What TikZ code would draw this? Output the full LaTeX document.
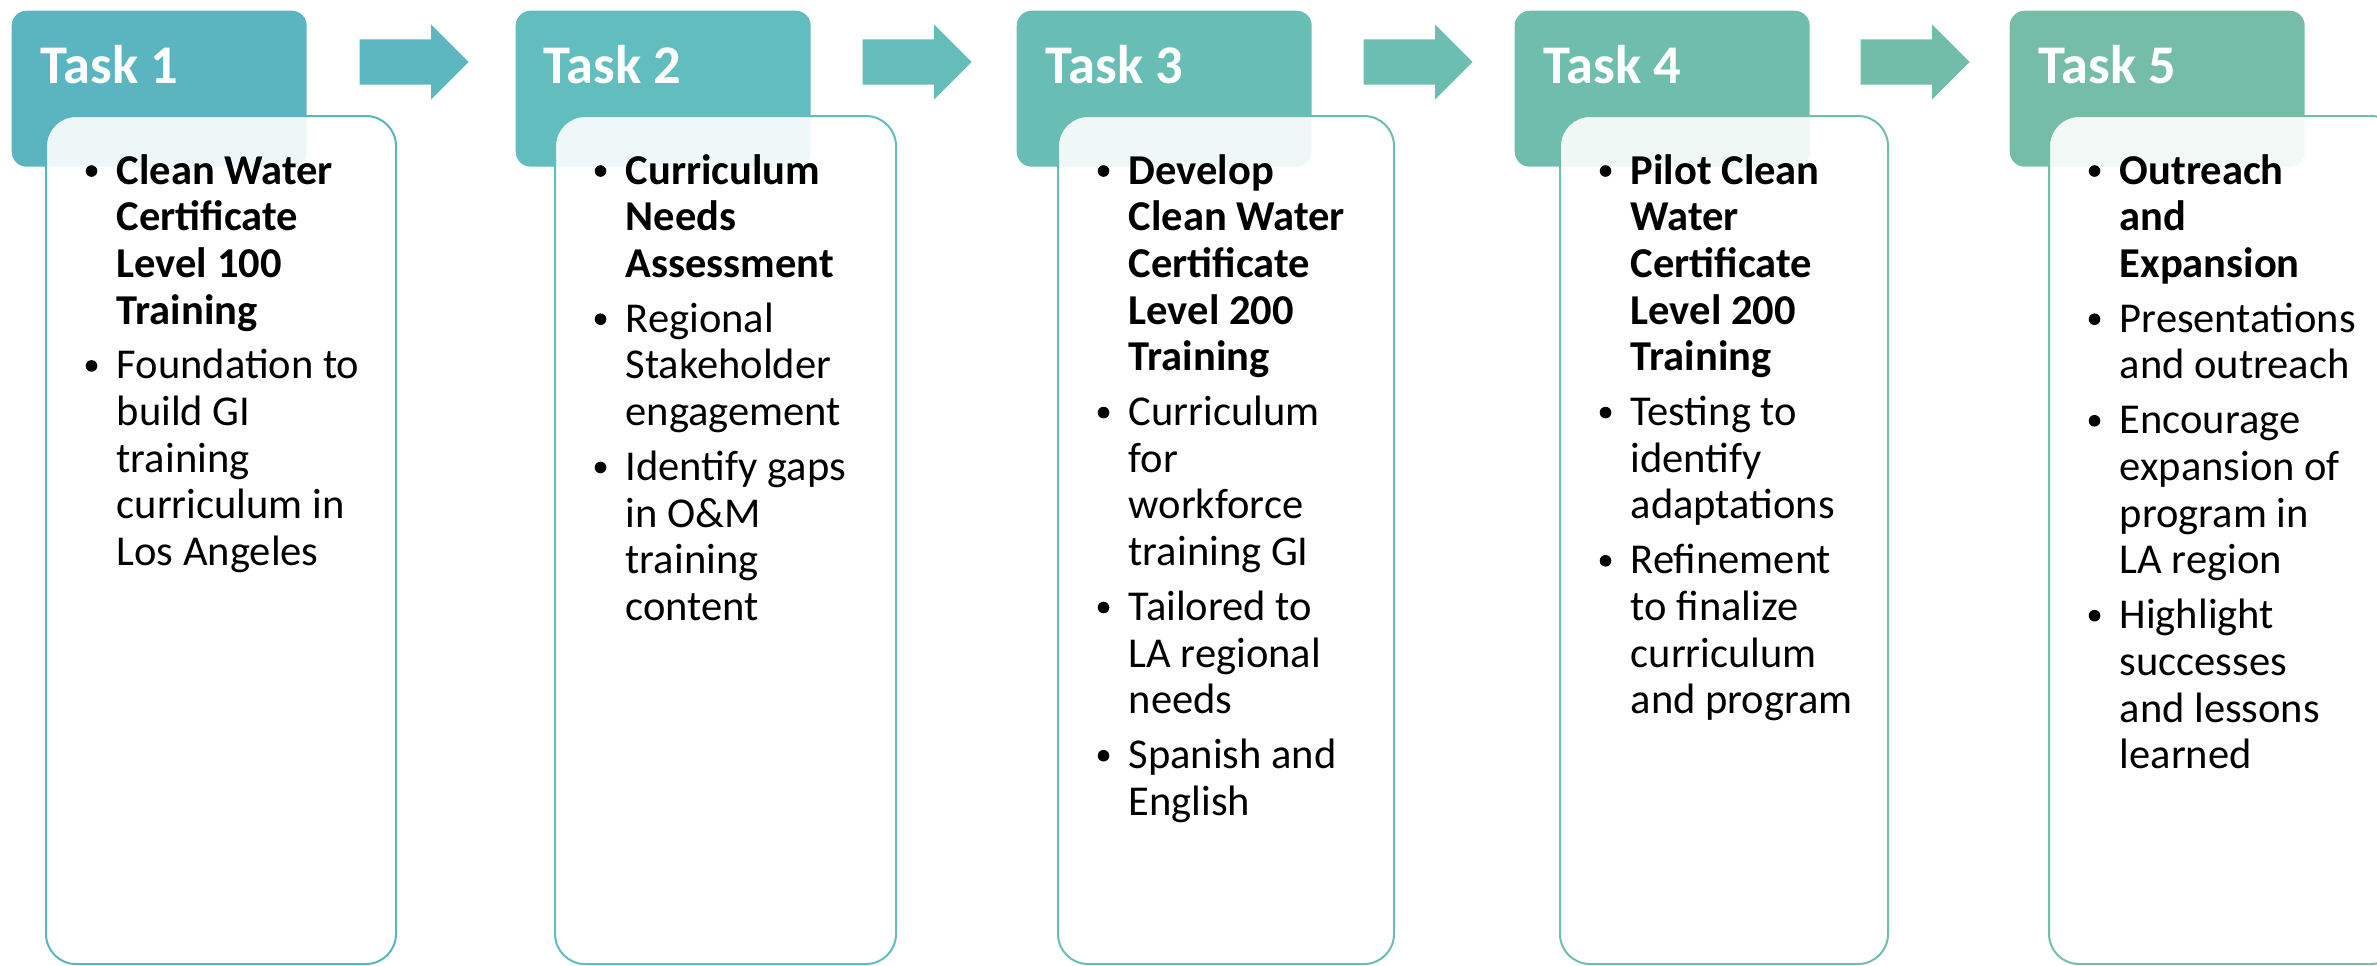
\documentclass[tikz,border=0pt]{standalone}
\usepackage{fontspec}
\setmainfont{Carlito}
\usepackage{enumitem}
\usetikzlibrary{shapes.arrows}

\definecolor{c1}{RGB}{91,181,193}
\definecolor{c2}{RGB}{97,189,190}
\definecolor{c3}{RGB}{104,190,180}
\definecolor{c4}{RGB}{111,190,173}
\definecolor{c5}{RGB}{118,189,167}

% round bullet, a bit larger than the font's own
\newcommand{\dotmark}{\tikz[baseline=-1.3mm]\fill (0,0) circle (0.58mm);}

% bullet list of one task box, lines broken by hand
\newcommand{\tasklist}[1]{%
	\begin{minipage}[t]{40mm}
		\fontsize{12.1}{13.28}\selectfont\raggedright
		\begin{itemize}[label=\dotmark, leftmargin=7.1mm, labelindent=4mm, labelwidth=1.16mm, labelsep=1.94mm, align=left, itemsep=0.82mm, parsep=0pt, topsep=0pt, partopsep=0pt]
			#1
		\end{itemize}
	\end{minipage}}

\begin{document}
\begin{tikzpicture}[x=0.1mm, y=-0.1mm,
		header/.style={rectangle, rounded corners=1.5mm, inner sep=0, minimum width=29.5mm, minimum height=15.6mm, anchor=north west},
		title/.style={anchor=base west, inner sep=0, text=white, font=\fontsize{15.5}{18}\selectfont\bfseries},
		body/.style={rectangle, rounded corners=3mm, line width=0.2mm, fill=white, fill opacity=0.9, inner sep=0, minimum height=84.8mm, anchor=north west},
		points/.style={anchor=base west, inner sep=0},
		flow/.style={single arrow, single arrow tip angle=90, single arrow head extend=1.5mm, inner xsep=0, inner ysep=2.2mm, minimum height=10.9mm, anchor=tail}]

		\clip (0,0) rectangle (2377,965);

		% Headers
		\begin{scope}
			\node (hdr1) at (11, 10) [header, fill=c1] {};
			\node (hdr2) at (515, 10) [header, fill=c2] {};
			\node (hdr3) at (1016, 10) [header, fill=c3] {};
			\node (hdr4) at (1514, 10) [header, fill=c4] {};
			\node (hdr5) at (2009, 10) [header, fill=c5] {};

			\node (hdr1_title) at (40, 83) [title] {Task 1};
			\node (hdr2_title) at (543, 83) [title] {Task 2};
			\node (hdr3_title) at (1045, 83) [title] {Task 3};
			\node (hdr4_title) at (1543, 83) [title] {Task 4};
			\node (hdr5_title) at (2038, 83) [title] {Task 5};
		\end{scope}

		% Arrows
		\begin{scope}
			\node (arr1) at (359, 62) [flow, fill=c1!70!c2] {};
			\node (arr2) at (862, 62) [flow, fill=c2!50!c3] {};
			\node (arr3) at (1363, 62) [flow, fill=c3!50!c4] {};
			\node (arr4) at (1860, 62) [flow, fill=c4!50!c5] {};
		\end{scope}

		% Boxes
		\begin{scope}
			\node (body1) at (45, 115) [body, draw=c1, minimum width=35mm] {};
			\node (body2) at (554, 115) [body, draw=c2, minimum width=34.1mm] {};
			\node (body3) at (1057, 115) [body, draw=c3, minimum width=33.6mm] {};
			\node (body4) at (1559, 115) [body, draw=c4, minimum width=32.8mm] {};
			\node (body5) at (2048, 115) [body, draw=c5, minimum width=35.2mm] {};
		\end{scope}

		% Task 1
		\node (pts1) at (45, 184) [points] {\tasklist{
				\item \textbf{Clean Water\\Certificate\\Level 100\\Training}
				\item Foundation to\\build GI\\training\\curriculum in\\Los Angeles}};

		% Task 2
		\node (pts2) at (554, 184) [points] {\tasklist{
				\item \textbf{Curriculum\\Needs\\Assessment}
				\item Regional\\Stakeholder\\engagement
				\item Identify gaps\\in O\&M\\training\\content}};

		% Task 3
		\node (pts3) at (1057, 184) [points] {\tasklist{
				\item \textbf{Develop\\Clean Water\\Certificate\\Level 200\\Training}
				\item Curriculum\\for\\workforce\\training GI
				\item Tailored to\\LA regional\\needs
				\item Spanish and\\English}};

		% Task 4
		\node (pts4) at (1559, 184) [points] {\tasklist{
				\item \textbf{Pilot Clean\\Water\\Certificate\\Level 200\\Training}
				\item Testing to\\identify\\adaptations
				\item Refinement\\to finalize\\curriculum\\and program}};

		% Task 5
		\node (pts5) at (2048, 184) [points] {\tasklist{
				\item \textbf{Outreach\\and\\Expansion}
				\item Presentations\\and outreach
				\item Encourage\\expansion of\\program in\\LA region
				\item Highlight\\successes\\and lessons\\learned}};

	\end{tikzpicture}
\end{document}
